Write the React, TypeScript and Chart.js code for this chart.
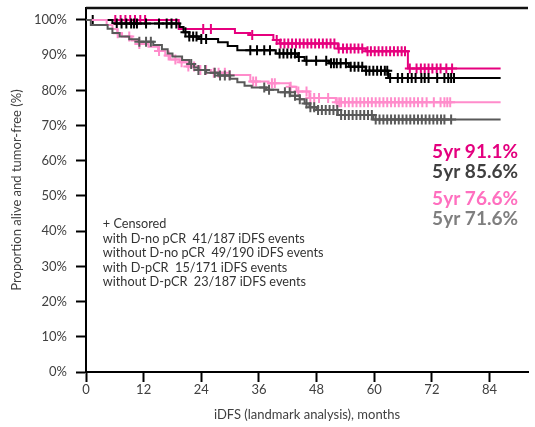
import React, { useEffect, useRef } from "react";
import { Chart, registerables } from "chart.js";

Chart.register(...registerables);

// ---------- axes ----------
const X_TICKS = [0, 12, 24, 36, 48, 60, 72, 84];
const Y_TICKS = [0, 10, 20, 30, 40, 50, 60, 70, 80, 90, 100];

// ---------- with D-pCR (magenta) ----------
const WITH_DPCR_T = [0, 19.3, 31.0, 34.2, 39.0, 40.3, 52.4, 58.2, 67.0, 86.3];
const WITH_DPCR_S = [100, 97.4, 96.3, 95.7, 94.3, 93.3, 91.9, 91.1, 86.2, 86.2];
const WITH_DPCR_CENS = [
  6.1, 7.2, 8.2, 9.2, 10.2, 11.3, 12.3, 24.4, 26.0, 34.6, 39.7, 40.5, 41.3, 42.1, 42.9, 43.7, 44.5,
  45.3, 46.1, 46.9, 47.7, 48.5, 49.3, 50.1, 50.9, 51.7, 52.6, 53.5, 54.3, 55.1, 55.9, 56.7, 57.5,
  58.6, 59.3, 60.1, 60.9, 61.7, 62.5, 63.3, 64.1, 64.9, 65.7, 66.4, 67.4, 68.8, 69.7, 70.5, 71.3,
  72.1, 73.0, 73.8, 75.0, 76.2,
];

// ---------- without D-pCR (black) ----------
const WITHOUT_DPCR_T = [0, 5.5, 19.5, 20.3, 21.5, 23.5, 27.5, 29.5, 31.5, 39.5, 44.0, 45.5, 50.6, 54.7, 58.2, 62.9, 86.3];
const WITHOUT_DPCR_S = [100, 99.0, 98.0, 96.5, 95.3, 94.6, 93.7, 92.6, 91.4, 90.5, 89.5, 88.4, 87.7, 86.7, 85.6, 83.5, 83.5];
const WITHOUT_DPCR_CENS = [
  1.4, 6.4, 7.4, 8.4, 9.4, 10.0, 10.6, 12.5, 15.2, 16.8, 17.8, 18.8, 20.7, 21.5, 22.3, 23.0, 24.0,
  25.0, 34.2, 35.6, 37.1, 38.3, 40.3, 41.1, 41.9, 42.7, 43.5, 44.3, 45.9, 47.9, 50.0, 51.0, 51.6,
  52.2, 53.0, 54.1, 55.1, 55.9, 56.7, 57.5, 58.3, 59.0, 59.8, 60.6, 61.4, 62.2, 62.7, 63.3, 64.9,
  65.8, 67.0, 67.8, 68.6, 69.8, 70.5, 71.3, 73.1, 74.6, 75.4, 76.0, 76.6,
];

// ---------- with D-no pCR (light pink) ----------
const WITH_DNOPCR_T = [0, 4.3, 5.5, 6.5, 7.5, 9.5, 11, 13, 15, 16.5, 17.5, 19.5, 21, 23.5, 26, 29, 34.2, 38, 42.4, 43.8, 46.5, 52, 86.3];
const WITH_DNOPCR_S = [100, 98.6, 97.4, 96.2, 95.3, 94.2, 93.2, 92.4, 91.2, 89.9, 88.8, 88.0, 86.8, 85.8, 85.0, 84.4, 82.5, 82.0, 81.0, 79.7, 77.8, 76.6, 76.6];
const WITH_DNOPCR_CENS = [
  6.6, 9.0, 11.1, 15.2, 17.2, 18.6, 19.9, 21.3, 22.5, 23.8, 25.0, 26.6, 27.6, 28.9, 29.9, 34.8,
  35.4, 38.7, 39.3, 42.6, 44.2, 45.9, 46.7, 47.5, 48.5, 50.4, 52.2, 52.7, 53.1, 53.9, 54.7, 55.5,
  56.3, 57.1, 57.9, 58.7, 59.5, 60.3, 61.1, 61.9, 62.7, 63.5, 64.3, 65.1, 65.9, 66.7, 67.5, 68.3,
  69.1, 70.0, 70.9, 72.4, 73.8, 74.6, 75.2, 75.8,
];

// ---------- without D-no pCR (gray) ----------
const WITHOUT_DNOPCR_T = [0, 1, 4.5, 5.5, 7, 9, 11, 14, 15.8, 17, 18, 20, 21.5, 22.5, 23.4, 25, 27.5, 30, 31.5, 33, 34.5, 37.5, 40, 42.5, 44.5, 45.5, 46.5, 48, 52.4, 59.8, 86.3];
const WITHOUT_DNOPCR_S = [100, 98.6, 97.5, 96.3, 95.3, 94.5, 93.8, 92.9, 91.7, 90.5, 89.6, 88.6, 87.5, 86.5, 85.8, 85.0, 84.2, 83.3, 82.3, 81.3, 80.8, 80.2, 79.5, 78.5, 77.5, 76.3, 75.2, 74.4, 73.0, 71.7, 71.7];
const WITHOUT_DNOPCR_CENS = [
  11.1, 12.5, 13.5, 21.9, 23.4, 24.8, 26.8, 27.9, 28.9, 29.9, 37.1, 38.1, 41.4, 42.4, 43.5, 44.5,
  45.9, 46.7, 47.5, 48.3, 49.1, 49.9, 50.7, 51.5, 52.3, 53.1, 53.9, 54.7, 55.5, 56.3, 57.1, 57.9,
  58.7, 59.5, 60.3, 61.1, 61.9, 62.7, 63.5, 64.3, 65.1, 65.9, 66.7, 67.5, 68.3, 69.1, 69.9, 70.7,
  71.5, 72.3, 73.1, 73.9, 74.6, 76.0,
];

// ---------- texts ----------
const LEGEND_LINES = [
  "+ Censored",
  "with D-no pCR  41/187 iDFS events",
  "without D-no pCR  49/190 iDFS events",
  "with D-pCR  15/171 iDFS events",
  "without D-pCR  23/187 iDFS events",
];
const FIVE_YEAR_LABELS = ["5yr 91.1%", "5yr 85.6%", "5yr 76.6%", "5yr 71.6%"];
const FIVE_YEAR_COLORS = ["#E4007F", "#404040", "#FF6FBF", "#7F7F7F"];

const X_TITLE = "iDFS (landmark analysis), months";
const Y_TITLE = "Proportion alive and tumor-free (%)";

const FONT = "Lato";

function kmAt(T: number[], S: number[], t: number) {
  let v = S[0];
  for (let i = 0; i < T.length; i++) {
    if (T[i] <= t) v = S[i];
    else break;
  }
  return v;
}

function curve(T: number[], S: number[], color: string) {
  return {
    data: T.map((t, i) => ({ x: t, y: S[i] })),
    borderColor: color,
    backgroundColor: color,
    borderWidth: 2,
    pointRadius: 0,
    stepped: true as const,
    fill: false,
  };
}

function censors(T: number[], S: number[], C: number[], color: string) {
  return {
    data: C.map((t) => ({ x: t, y: kmAt(T, S, t) })),
    borderColor: color,
    backgroundColor: color,
    showLine: false,
    pointStyle: "cross" as const,
    pointRadius: 5,
    pointBorderWidth: 2,
    pointHoverRadius: 5,
  };
}

const textPlugin = {
  id: "texts",
  afterDraw(chart: any) {
    const ctx = chart.ctx;
    const xs = chart.scales.x;
    const ys = chart.scales.y;
    const area = chart.chartArea;
    ctx.save();
    // top frame line
    ctx.strokeStyle = "#111";
    ctx.lineWidth = 2.5;
    ctx.beginPath();
    ctx.moveTo(area.left, area.top);
    ctx.lineTo(area.right, area.top);
    ctx.stroke();
    // legend block
    ctx.font = `12.7px ${FONT}`;
    ctx.fillStyle = "#333333";
    ctx.textAlign = "left";
    ctx.textBaseline = "alphabetic";
    const lx = xs.getPixelForValue(3.5);
    const ly = ys.getPixelForValue(40.9);
    LEGEND_LINES.forEach((s, i) => ctx.fillText(s, lx, ly + i * 14.6));
    // 5-year labels
    ctx.font = `bold 19px ${FONT}`;
    ctx.textAlign = "right";
    const baselines = [158, 178, 205, 225];
    FIVE_YEAR_LABELS.forEach((s, i) => {
      ctx.fillStyle = FIVE_YEAR_COLORS[i];
      ctx.fillText(s, 518, baselines[i]);
    });
    ctx.restore();
  },
};

export default function App() {
  const ref = useRef<HTMLCanvasElement | null>(null);
  useEffect(() => {
    if (!ref.current) return;
    const chart = new Chart(ref.current, {
      type: "line",
      data: {
        datasets: [
          curve(WITHOUT_DNOPCR_T, WITHOUT_DNOPCR_S, "#595959"),
          censors(WITHOUT_DNOPCR_T, WITHOUT_DNOPCR_S, WITHOUT_DNOPCR_CENS, "#595959"),
          curve(WITH_DNOPCR_T, WITH_DNOPCR_S, "#FF8CCB"),
          censors(WITH_DNOPCR_T, WITH_DNOPCR_S, WITH_DNOPCR_CENS, "#FF8CCB"),
          curve(WITHOUT_DPCR_T, WITHOUT_DPCR_S, "#000000"),
          censors(WITHOUT_DPCR_T, WITHOUT_DPCR_S, WITHOUT_DPCR_CENS, "#000000"),
          curve(WITH_DPCR_T, WITH_DPCR_S, "#E6007E"),
          censors(WITH_DPCR_T, WITH_DPCR_S, WITH_DPCR_CENS, "#E6007E"),
        ] as any,
      },
      options: {
        responsive: false,
        animation: false,
        events: [],
        layout: { padding: { top: 8, left: 0, right: 0, bottom: 0 } },
        plugins: { legend: { display: false }, tooltip: { enabled: false } },
        scales: {
          x: {
            type: "linear",
            min: 0,
            max: 92,
            afterBuildTicks: (s: any) => {
              s.ticks = X_TICKS.map((v) => ({ value: v }));
            },
            afterFit: (s: any) => {
              s.height = 55;
              s.paddingLeft = 0;
              s.paddingRight = 0;
            },
            ticks: {
              font: { family: FONT, size: 13 },
              color: "#404040",
              padding: 0,
              maxRotation: 0,
              autoSkip: false,
            },
            grid: { drawOnChartArea: false, tickLength: 10, tickWidth: 2, tickColor: "#000" },
            border: { color: "#000", width: 2 },
            title: {
              display: true,
              text: X_TITLE,
              font: { family: FONT, size: 13 },
              color: "#404040",
              padding: { top: 0, bottom: 4 },
            },
          },
          y: {
            type: "linear",
            min: 0,
            max: 103.4,
            afterBuildTicks: (s: any) => {
              s.ticks = Y_TICKS.map((v) => ({ value: v }));
            },
            afterFit: (s: any) => {
              s.width = 86;
              s.paddingTop = 0;
              s.paddingBottom = 0;
            },
            ticks: {
              font: { family: FONT, size: 13 },
              color: "#404040",
              padding: 9,
              callback: (v: any) => `${v}%`,
            },
            grid: { drawOnChartArea: false, tickLength: 10, tickWidth: 2, tickColor: "#000" },
            border: { color: "#000", width: 2 },
            title: {
              display: true,
              text: Y_TITLE,
              font: { family: FONT, size: 13 },
              color: "#404040",
              padding: { top: 9, bottom: 0 },
            },
          },
        },
      } as any,
      plugins: [textPlugin],
    });
    return () => chart.destroy();
  }, []);
  return (
    <canvas
      ref={ref}
      width={535}
      height={427}
      style={{ position: "fixed", left: 0, top: 0, width: 535, height: 427 }}
    />
  );
}
